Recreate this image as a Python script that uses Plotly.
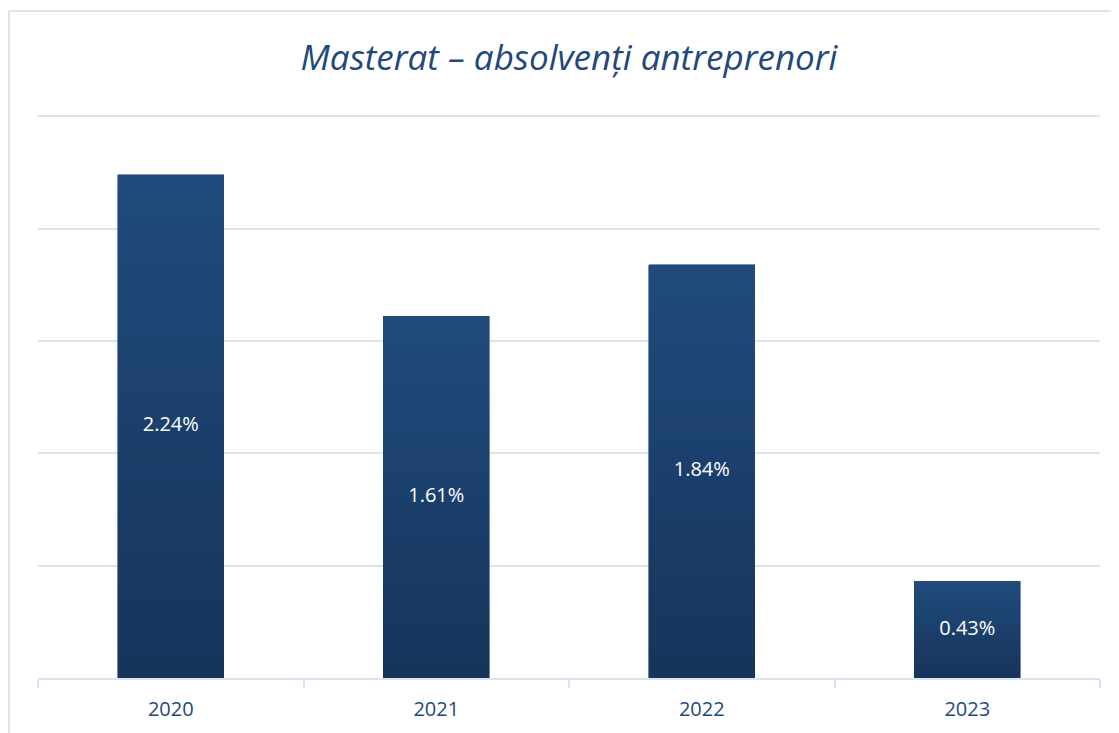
import plotly.graph_objects as go

years = ["2020", "2021", "2022", "2023"]
values = [2.24, 1.61, 1.84, 0.43]
labels = ["2.24%", "1.61%", "1.84%", "0.43%"]

title_text = "Masterat – absolvenți antreprenori"
top_color = (0x20, 0x4B, 0x7C)
bottom_color = (0x17, 0x34, 0x5B)
grid_color = "#dae3f2"
FONT = "Open Sans, Lato, sans-serif"

# page body has an 8px default margin, so the figure is laid out 8px smaller
W, H = 1111, 725
L, R, T, B = 30, 19, 104, 55
PW, PH = W - L - R, H - T - B

N = 40
fig = go.Figure()
for i in range(N):
    t = i / (N - 1)
    c = tuple(round(bottom_color[k] + (top_color[k] - bottom_color[k]) * t) for k in range(3))
    col = "rgb(%d,%d,%d)" % c
    fig.add_trace(go.Bar(
        x=years,
        y=[v / N for v in values],
        marker=dict(color=col, line=dict(width=0.6, color=col)),
        width=0.4,
        hoverinfo="skip",
        showlegend=False,
    ))

fig.add_trace(go.Scatter(
    x=years,
    y=[v / 2 for v in values],
    text=labels,
    mode="text",
    textfont=dict(color="white", size=20, family=FONT),
    textposition="middle center",
    showlegend=False,
    hovertext=labels,
    hoverinfo="x+text",
))

fig.update_layout(
    barmode="stack",
    width=W,
    height=H,
    paper_bgcolor="white",
    plot_bgcolor="white",
    margin=dict(l=L, r=R, t=T, b=B, autoexpand=False),
    title=dict(
        text="<i>" + title_text + "</i>",
        x=(L + PW / 2) / W,
        xanchor="center",
        y=1 - 50 / H,
        yanchor="middle",
        font=dict(family=FONT, size=35, color="#1f497d"),
    ),
    xaxis=dict(
        type="category",
        showline=True,
        linecolor=grid_color,
        linewidth=2,
        ticks="outside",
        tickson="boundaries",
        ticklen=8,
        tickcolor=grid_color,
        tickwidth=2,
        ticklabelstandoff=12,
        tickfont=dict(family=FONT, size=20, color="#1f497d"),
        showgrid=False,
    ),
    yaxis=dict(
        range=[0, 2.52],
        tickvals=[0.5, 1.0, 1.5, 2.0, 2.5],
        showticklabels=False,
        showgrid=True,
        gridcolor=grid_color,
        gridwidth=2,
        zeroline=False,
        fixedrange=True,
    ),
    shapes=[dict(
        type="rect", xref="paper", yref="paper",
        x0=(1 - L) / PW, x1=1.1, y0=-0.2, y1=(PH + T - 3) / PH,
        line=dict(color=grid_color, width=2),
        fillcolor="rgba(0,0,0,0)",
        layer="below",
    )],
)

fig.write_html("out.html")
